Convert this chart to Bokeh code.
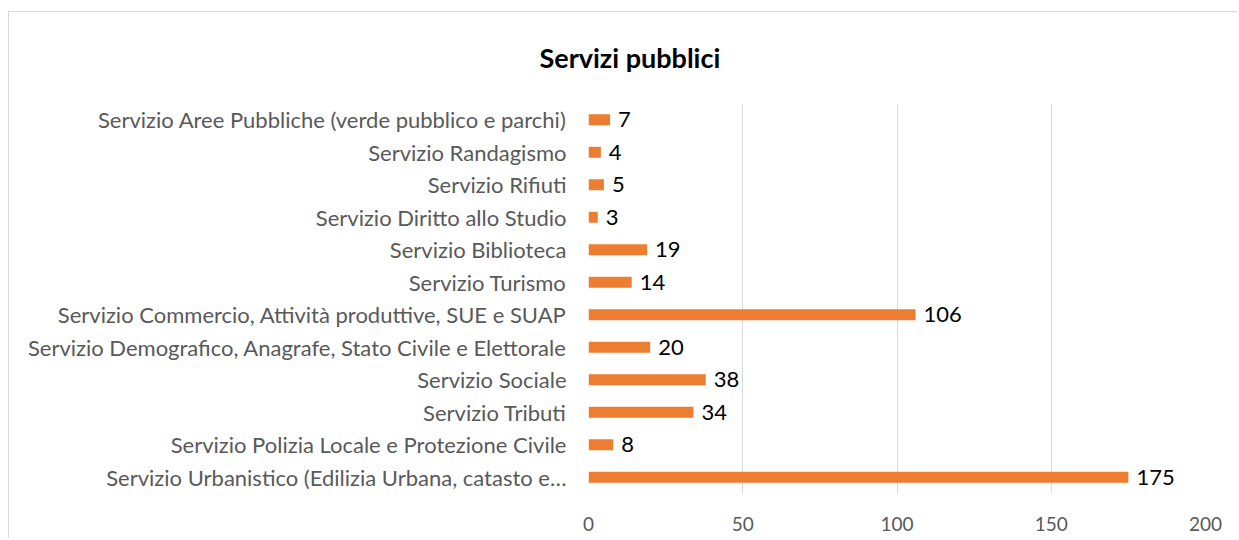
from bokeh.plotting import figure
from bokeh.models import ColumnDataSource, FactorRange, Range1d, FixedTicker
from bokeh.core.properties import value
from bokeh.embed import file_html
from bokeh.resources import INLINE

# ---- data (top to bottom as in the chart) ----
categories = [
    "Servizio Aree Pubbliche (verde pubblico e parchi)",
    "Servizio Randagismo",
    "Servizio Rifiuti",
    "Servizio Diritto allo Studio",
    "Servizio Biblioteca",
    "Servizio Turismo",
    "Servizio Commercio, Attività produttive, SUE e SUAP",
    "Servizio Demografico, Anagrafe, Stato Civile e Elettorale",
    "Servizio Sociale",
    "Servizio Tributi",
    "Servizio Polizia Locale e Protezione Civile",
    "Servizio Urbanistico (Edilizia Urbana, catasto e…",
]
values = [7, 4, 5, 3, 19, 14, 106, 20, 38, 34, 8, 175]
x_ticks = [0, 50, 100, 150, 200]
title_text = "Servizi pubblici"

FONT = "Lato"
BAR = "#ED7D31"
GRID = "#D9D9D9"
LABEL = "#595959"

source = ColumnDataSource(dict(cat=categories, val=values, txt=[str(v) for v in values]))

W, H = 1229, 527
p = figure(
    width=W, height=H,
    y_range=FactorRange(factors=list(reversed(categories))),
    x_range=Range1d(0, 200),
    output_backend="svg", toolbar_location=None,
    min_border_left=579, min_border_right=33,
    min_border_top=91, min_border_bottom=46,
)
p.margin = (11, 0, 0, 8)
p.styles = {"border-left": "1px solid #D9D9D9", "border-top": "1px solid #D9D9D9"}

p.hbar(y="cat", right="val", left=0, height=0.34, source=source,
       fill_color=BAR, line_color=None)
p.text(x="val", y="cat", text="txt", source=source, x_offset=8,
       text_baseline="middle", text_align="left",
       text_font=value(FONT), text_font_size="22px", text_color="#000000")

# chart title
p.title.text = title_text
p.title.align = "left"
p.title.offset = -49
p.title.vertical_align = "top"
p.title.standoff = 56
p.title.text_font = FONT
p.title.text_font_size = "27px"
p.title.text_font_style = "bold"
p.title.text_color = "#000000"

p.outline_line_color = None
p.background_fill_color = "white"
p.border_fill_color = "white"

p.xaxis.ticker = FixedTicker(ticks=x_ticks)
p.xgrid.ticker = FixedTicker(ticks=x_ticks)
p.xgrid.grid_line_color = GRID
p.xgrid.grid_line_width = 1
p.ygrid.grid_line_color = None

for ax in (p.xaxis, p.yaxis):
    ax.axis_line_color = None
    ax.major_tick_line_color = None
    ax.minor_tick_line_color = None
    ax.major_tick_out = 0
    ax.major_tick_in = 0
    ax.major_label_text_font = FONT
    ax.major_label_text_color = LABEL

p.xaxis.major_label_text_font_size = "19px"
p.xaxis.major_label_standoff = 23
p.yaxis.major_label_text_font_size = "22px"
p.yaxis.major_label_standoff = 22

open("out.html", "w").write(file_html(p, INLINE))
